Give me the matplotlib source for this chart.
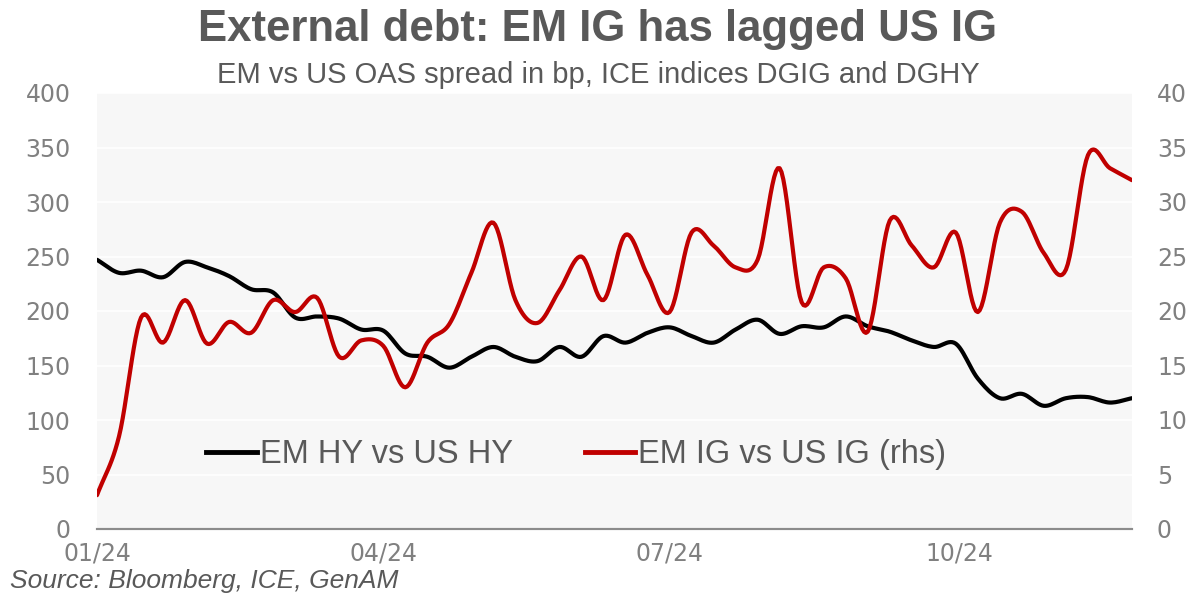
import numpy as np
import pandas as pd
import matplotlib
matplotlib.use("Agg")
import matplotlib.pyplot as plt
import matplotlib.dates as mdates
from matplotlib.lines import Line2D

# ---------------- data (weekly) ----------------
start_date = "2024-01-01"
n_weeks = 48
em_hy_vs_us_hy = [247, 235, 237, 231, 245, 240, 232, 220, 217, 194,
                  195, 193, 183, 182, 161, 158, 148, 158, 167, 158,
                  154, 167, 158, 177, 171, 180, 185, 177, 171, 183,
                  192, 179, 186, 185, 195, 186, 181, 173, 167, 170,
                  138, 120, 124, 113, 120, 121, 116, 120]
em_ig_vs_us_ig = [3.1, 8.5, 19.4, 17.1, 21.0, 17.0, 19.0, 18.0, 21.0, 19.9,
                  21.2, 15.8, 17.3, 16.8, 13.0, 17.1, 18.8, 23.5, 28.1, 21.0,
                  18.9, 21.9, 25.0, 21.0, 27.0, 23.3, 19.9, 27.2, 26.0, 24.0,
                  24.7, 33.1, 20.8, 24.0, 23.0, 18.1, 28.3, 26.0, 24.0, 27.2,
                  19.9, 28.1, 29.1, 25.3, 23.8, 34.3, 33.1, 32.0]
x_ticks = ["2024-01-01", "2024-04-01", "2024-07-01", "2024-10-01"]
x_ticklabels = ["01/24", "04/24", "07/24", "10/24"]
left_ticks = [0, 50, 100, 150, 200, 250, 300, 350, 400]
right_ticks = [0, 5, 10, 15, 20, 25, 30, 35, 40]
label_hy = "EM HY vs US HY"
label_ig = "EM IG vs US IG (rhs)"
title = "External debt: EM IG has lagged US IG"
subtitle = "EM vs US OAS spread in bp, ICE indices DGIG and DGHY"
source = "Source: Bloomberg, ICE, GenAM"

dates = pd.date_range(start_date, periods=n_weeks, freq="7D")
xnum = mdates.date2num(dates.to_pydatetime())


def smooth(x, y, n=12):
    """Catmull-Rom spline through the data points (like Excel smoothed lines)."""
    x = np.asarray(x, float)
    y = np.asarray(y, float)
    px = np.concatenate([[2 * x[0] - x[1]], x, [2 * x[-1] - x[-2]]])
    py = np.concatenate([[2 * y[0] - y[1]], y, [2 * y[-1] - y[-2]]])
    t = np.linspace(0, 1, n, endpoint=False)
    xs, ys = [], []
    for i in range(1, len(px) - 2):
        for P, out in ((px, xs), (py, ys)):
            p0, p1, p2, p3 = P[i - 1], P[i], P[i + 1], P[i + 2]
            out.append(0.5 * ((2 * p1) + (-p0 + p2) * t
                              + (2 * p0 - 5 * p1 + 4 * p2 - p3) * t ** 2
                              + (-p0 + 3 * p1 - 3 * p2 + p3) * t ** 3))
    xs = np.concatenate(xs + [[x[-1]]])
    ys = np.concatenate(ys + [[y[-1]]])
    return xs, ys


plt.rcParams["font.family"] = ["Liberation Sans", "DejaVu Sans"]

W, H = 1196, 596
fig = plt.figure(figsize=(W / 100, H / 100), dpi=100)
fig.patch.set_facecolor("white")

ax = fig.add_axes([97 / W, 1 - 529 / H, (1132 - 97) / W, (529 - 93) / H])
ax2 = ax.twinx()

ax.set_facecolor("#f7f7f7")

hx, hy = smooth(xnum, em_hy_vs_us_hy)
gx, gy = smooth(xnum, em_ig_vs_us_ig)

black = "#000000"
red = "#c00000"
ax.plot(hx, hy, color=black, lw=3.0, solid_capstyle="round", zorder=3)
ax2.plot(gx, gy, color=red, lw=3.0, solid_capstyle="round", zorder=3)

ax.set_xlim(xnum[0], xnum[-1])
ax.set_ylim(0, 400)
ax2.set_ylim(0, 40)
ax.set_yticks(left_ticks)
ax2.set_yticks(right_ticks)
ax.set_xticks(mdates.date2num(pd.to_datetime(x_ticks).to_pydatetime()))
ax.set_xticklabels(x_ticklabels)

ax.grid(axis="y", color="white", lw=1.2)
ax.set_axisbelow(True)

tick_color = "#808080"
for a in (ax, ax2):
    for s in ("top", "left", "right"):
        a.spines[s].set_visible(False)
    a.spines["bottom"].set_color("#8c8c8c")
    a.spines["bottom"].set_linewidth(1.5)
    a.tick_params(length=0, labelsize=17, labelcolor=tick_color)
ax.tick_params(axis="y", pad=19)
ax2.tick_params(axis="y", pad=18)
ax.tick_params(axis="x", pad=9)
for lab in ax.get_yticklabels() + ax2.get_yticklabels() + ax.get_xticklabels():
    lab.set_family(["DejaVu Sans"])

handles = [Line2D([], [], color=black, lw=3.5),
           Line2D([], [], color=red, lw=3.5)]
leg = ax.legend(handles, [label_hy, label_ig], ncol=2, frameon=False,
                loc="center", bbox_to_anchor=(0.463, 0.17),
                fontsize=23.5, handlelength=1.55, handletextpad=0.1,
                columnspacing=2.2, labelcolor="#595959")

fig.text(0.5, 1 - 30 / H, title, ha="center", va="center",
         fontsize=31.5, fontweight="bold", color="#595959")
fig.text(0.5, 1 - 75 / H, subtitle, ha="center", va="center",
         fontsize=21, color="#595959")
fig.text(10 / W, 1 - 581 / H, source, ha="left", va="center",
         fontsize=19, style="italic", color="#595959")

fig.savefig("out.png", dpi=100, facecolor="white")
